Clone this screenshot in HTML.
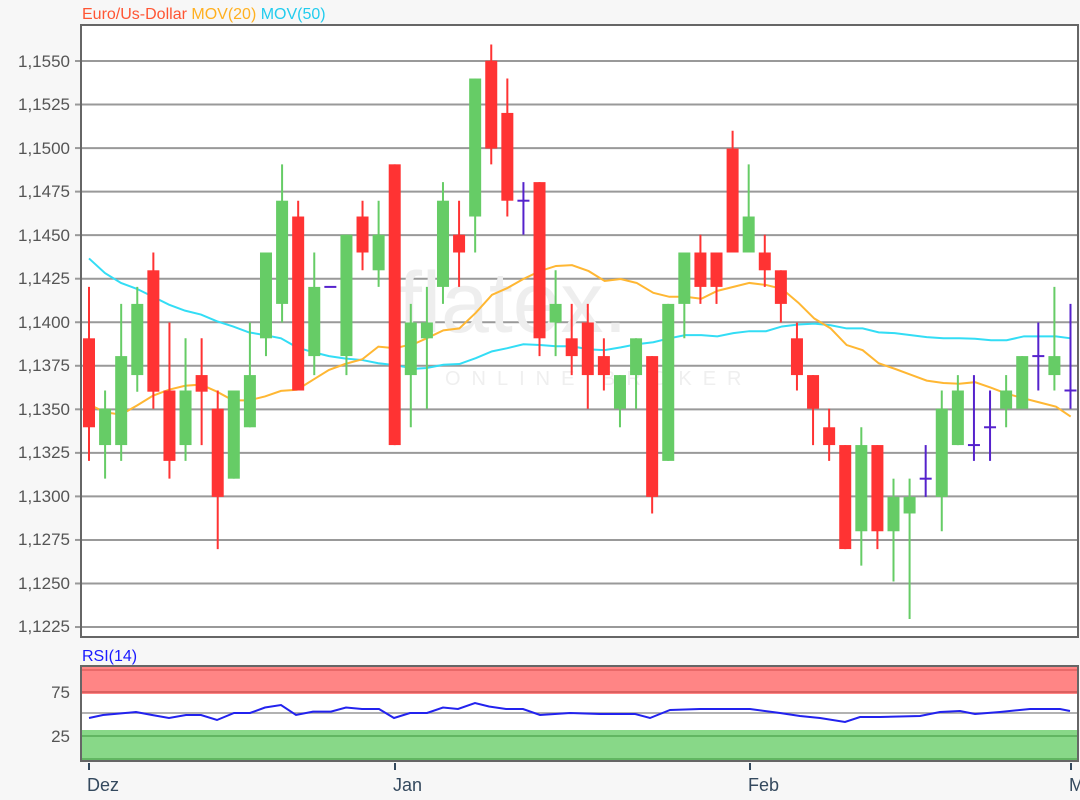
<!DOCTYPE html>
<html><head><meta charset="utf-8"><style>
html,body{margin:0;padding:0;background:#f7f7f7;}
svg{display:block;font-family:"Liberation Sans",sans-serif;}
</style></head><body>
<svg id="s" width="1080" height="800" viewBox="0 0 1080 800" xmlns="http://www.w3.org/2000/svg">
<rect x="0" y="0" width="1080" height="800" fill="#f7f7f7"/>
<rect x="81" y="25" width="997" height="612" fill="#fff"/>
<g id="grid" stroke="#999" stroke-width="2"></g>
<text x="398" y="332" font-size="86" fill="#eeeeee">flatex.</text>
<text x="445" y="385" font-size="20" fill="#efefef" letter-spacing="11">ONLINE BROKER</text>
<g id="ma"></g>
<g id="c"></g>
<rect x="81" y="25" width="997" height="612" fill="none" stroke="#666" stroke-width="2"/>
<g font-size="17" fill="#555" text-anchor="end" id="yl">
<text x="70" y="67">1,1550</text><text x="70" y="110">1,1525</text><text x="70" y="154">1,1500</text><text x="70" y="197">1,1475</text><text x="70" y="241">1,1450</text><text x="70" y="284">1,1425</text><text x="70" y="328">1,1400</text><text x="70" y="371">1,1375</text><text x="70" y="415">1,1350</text><text x="70" y="458">1,1325</text><text x="70" y="502">1,1300</text><text x="70" y="545">1,1275</text><text x="70" y="589">1,1250</text><text x="70" y="632">1,1225</text>
</g>
<text x="82" y="19" font-size="16"><tspan fill="#ff5533">Euro/Us-Dollar</tspan><tspan fill="#ffb020"> MOV(20)</tspan><tspan fill="#22ccee"> MOV(50)</tspan></text>
<text x="82" y="661" font-size="16" fill="#1a1aff">RSI(14)</text>
<rect x="81" y="666" width="997" height="95" fill="#fff"/>
<rect x="81" y="666" width="997" height="28" fill="#ff8585"/>
<line x1="81" y1="670" x2="1078" y2="670" stroke="#e06060" stroke-width="1.5"/>
<line x1="81" y1="692" x2="1078" y2="692" stroke="#d05555" stroke-width="1.5"/>
<rect x="81" y="730" width="997" height="31" fill="#88d888"/>
<line x1="81" y1="736" x2="1078" y2="736" stroke="#55aa55" stroke-width="1.5"/>
<line x1="81" y1="759" x2="1078" y2="759" stroke="#55aa55" stroke-width="1.5"/>
<line x1="81" y1="713" x2="1078" y2="713" stroke="#999" stroke-width="1.5"/>
<polyline id="rsi" fill="none" stroke="#2222ee" stroke-width="2"/>
<rect x="81" y="666" width="997" height="95" fill="none" stroke="#666" stroke-width="2"/>
<g font-size="17" fill="#555" text-anchor="end"><text x="70" y="698">75</text><text x="70" y="742">25</text></g>
<g stroke="#34495e" stroke-width="2"><line x1="89" y1="763" x2="89" y2="770"/><line x1="395" y1="763" x2="395" y2="770"/><line x1="750" y1="763" x2="750" y2="770"/><line x1="1071" y1="763" x2="1071" y2="770"/></g>
<g font-size="18" fill="#34495e"><text x="87" y="791">Dez</text><text x="393" y="791">Jan</text><text x="748" y="791">Feb</text><text x="1069" y="791">M</text></g>
</svg>
<script>
var NS="http://www.w3.org/2000/svg";
function el(p,t,a){var e=document.createElementNS(NS,t);for(var k in a)e.setAttribute(k,a[k]);p.appendChild(e);return e;}
var g=document.getElementById('grid');
for(var k=0;k<14;k++){var y=61+k*43.54;el(g,'line',{x1:81,y1:y,x2:1078,y2:y});el(g,'line',{x1:75,y1:y,x2:81,y2:y});}
function Y(z){return 20+z/2.529;}
function X(i){return 89+16.09*i;}
var C=[
['r',675,1115,805,1030],['g',937,1160,983,1075],['g',718,1115,850,1075],['g',675,940,718,898],['r',588,983,633,940],
['r',765,1160,937,1115],['g',805,1115,937,1075],['r',805,1075,898,940],['r',937,1338,983,1206],['g',937,1160,937,1160],
['g',765,1030,898,1030],['g',588,850,588,805],['g',365,765,457,718],['r',457,937,497,937],['g',588,898,675,850],
['d',675,675,675],['g',543,898,543,850],['r',457,633,497,588],['g',457,675,543,633],['r',365,1075,365,1075],
['g',718,1030,765,898],['g',675,983,765,805],['g',410,718,457,675],['r',457,675,543,588],['g',148,588,148,497],
['r',62,365,103,325],['r',148,497,235,457],['d',410,543,457],['r',410,850,410,805],['g',633,850,718,765],
['r',718,898,805,850],['r',718,983,765,898],['r',805,937,850,898],['g',898,1030,898,983],['g',805,983,805,898],
['r',850,1248,850,1206],['g',718,1115,718,1115],['g',588,805,588,718],['r',543,718,588,675],['r',588,718,588,675],
['r',280,588,325,588],['g',365,588,497,588],['r',543,675,588,633],['r',633,765,633,718],['r',765,937,805,898],
['r',898,1075,898,983],['r',983,1115,1030,1075],['r',1075,1338,1075,1338],['g',1030,1380,1075,1293],['r',1075,1338,1075,1293],
['g',1160,1420,1206,1293],['g',1160,1515,1206,1248],['d',1075,1206,1160],['g',937,1293,983,1206],['g',898,1075,937,1075],
['d',898,1115,1075],['d',937,1115,1030],['g',898,1030,937,983],['g',850,983,850,983],['d',765,937,850],
['g',675,937,850,898],['d',718,983,937]];
var cg=document.getElementById('c');
C.forEach(function(c,i){var x=X(i);
 if(c[0]=='d'){el(cg,'line',{x1:x,y1:Y(c[1]),x2:x,y2:Y(c[2]),stroke:'#5522cc','stroke-width':2});
  el(cg,'line',{x1:x-6,y1:Y(c[3]),x2:x+6,y2:Y(c[3]),stroke:'#5522cc','stroke-width':2});return;}
 var col=c[0]=='r'?'#ff3333':'#66cc66';
 el(cg,'line',{x1:x,y1:Y(c[1]),x2:x,y2:Y(c[2]),stroke:col,'stroke-width':2});
 el(cg,'rect',{x:x-6,y:Y(c[3]),width:12,height:Math.max(2,Y(c[4])-Y(c[3])),fill:col});
});
function pts(z){return z.map(function(p){return (p[0]+p[1]/3)+','+Y(p[2]);}).join(' ');}
var m20=[[75,42,972],[75,90,992],[75,138,998],[75,186,975],[75,234,950],[75,282,935],[75,330,925],[75,378,922],[75,426,940],[75,474,962],[75,522,962],[75,570,952],[75,618,938],[75,666,935],[75,714,910],[75,762,885],[75,810,870],[75,862,858],[75,910,826],[75,960,830],[75,1020,818],
[400,40,820],[400,80,805],[400,130,785],[400,178,780],[400,228,740],[400,276,695],[400,322,678],[400,370,655],[400,420,635],[400,468,622],[400,516,620],[400,566,635],[400,614,660],[400,662,655],[400,710,665],[400,760,690],[400,808,700],[400,856,700],[400,904,705],[400,952,685],[400,1000,675],
[730,58,665],[730,108,670],[730,156,680],[730,205,715],[730,253,755],[730,302,780],[730,350,822],[730,398,835],[730,446,868],[730,494,882],[730,542,897],[730,590,912],[730,640,918],[730,688,920],[730,735,916],[730,783,930],[730,830,945],[730,882,957],[730,928,967],[730,978,978],[730,1022,1003]];
var m50=[[75,42,603],[75,90,640],[75,138,665],[75,186,680],[75,234,700],[75,282,720],[75,330,735],[75,378,745],[75,426,762],[75,474,775],[75,522,790],[75,570,797],[75,618,805],[75,666,828],[75,714,840],[75,762,850],[75,810,856],[75,862,860],[75,910,868],[75,960,873],[75,1020,882],
[400,80,880],[400,130,872],[400,178,870],[400,228,855],[400,276,838],[400,322,830],[400,370,820],[400,420,822],[400,468,825],[400,516,825],[400,566,833],[400,614,835],[400,662,828],[400,710,820],[400,760,815],[400,808,805],[400,856,797],[400,904,797],[400,952,800],[400,1000,792],
[730,58,787],[730,108,787],[730,156,775],[730,205,770],[730,253,768],[730,302,772],[730,350,780],[730,398,780],[730,446,790],[730,494,792],[730,542,797],[730,590,802],[730,640,805],[730,688,805],[730,735,806],[730,783,810],[730,830,810],[730,882,800],[730,928,800],[730,978,800],[730,1022,805]];
var ma=document.getElementById('ma');
el(ma,'polyline',{points:pts(m50),fill:'none',stroke:'#33ddf5','stroke-width':2});
el(ma,'polyline',{points:pts(m20),fill:'none',stroke:'#ffb733','stroke-width':2});
document.getElementById('rsi').setAttribute('points','89,718 103,715 136,712 152,715 169,718 186,715 201,715 217,720 234,713 250,713 265,707.5 281,705 296,715 313,711.6 331,711.6 346,707.5 362,709 379,709 394,718 410,713 427,713 443,707.5 458,709 475,703 489,706.5 506,709 523,709 540,715 570,713 600,714 635,714 650,718 670,710 700,709 750,709 780,713 800,716 820,718 845,722 860,717 880,717 920,716 940,712 960,711 975,714 1000,712 1030,709 1060,709 1070,711');
</script>
</body></html>
